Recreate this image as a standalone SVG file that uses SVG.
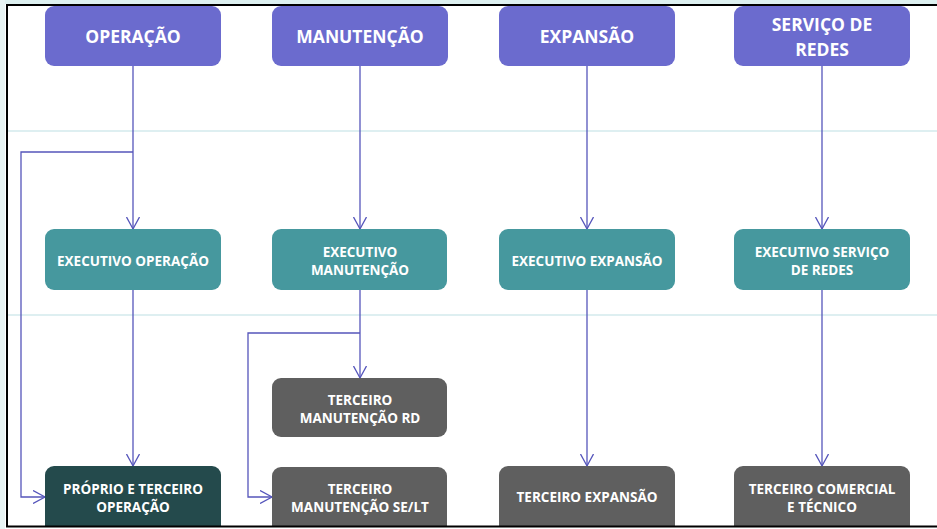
<svg xmlns="http://www.w3.org/2000/svg" width="937" height="529" viewBox="0 0 937 529">
<defs>
<style>
.top{fill:#6B6BCE}
.exe{fill:#46989E}
.ter{fill:#5F5F5F}
.pro{fill:#244A4C}
text{font-family:"Open Sans","DejaVu Sans",sans-serif;font-weight:700;fill:#FFFFFF;text-anchor:middle}
.t1{font-size:17.5px}
.t2{font-size:13.5px}
.c{fill:none;stroke:#5555BB;stroke-width:1.3}
.sep{stroke:#D3EAEC;stroke-width:1.5}
</style>
<marker id="ah" viewBox="0 0 14 14" refX="12" refY="7" markerWidth="14" markerHeight="14" markerUnits="userSpaceOnUse" orient="auto">
<path d="M0,0.5 L12,7 L0,13.5" fill="none" stroke="#5555BB" stroke-width="1.3"/>
</marker>
</defs>
<rect x="0" y="0" width="937" height="529" fill="#FFFFFF"/>
<rect x="0" y="0" width="937" height="4" fill="#DDF0F0"/>
<rect x="0" y="0" width="5" height="529" fill="#E8F4F4"/>
<line class="sep" x1="8" y1="131" x2="937" y2="131"/>
<line class="sep" x1="8" y1="315" x2="937" y2="315"/>

<g id="connectors">
<path class="c" d="M133,66 V229" marker-end="url(#ah)"/>
<path class="c" d="M133,152 H21 V497 H45" marker-end="url(#ah)"/>
<path class="c" d="M133,290 V466" marker-end="url(#ah)"/>
<path class="c" d="M360,66 V229" marker-end="url(#ah)"/>
<path class="c" d="M360,290 V378" marker-end="url(#ah)"/>
<path class="c" d="M360,333 H248 V497 H272" marker-end="url(#ah)"/>
<path class="c" d="M587,66 V229" marker-end="url(#ah)"/>
<path class="c" d="M587,290 V466" marker-end="url(#ah)"/>
<path class="c" d="M822,66 V229" marker-end="url(#ah)"/>
<path class="c" d="M822,290 V466" marker-end="url(#ah)"/>
</g>

<g id="operacao"><rect class="top" x="45" y="6" width="176" height="60" rx="9"/><text class="t1" x="133" y="43">OPERAÇÃO</text></g>
<g id="manutencao"><rect class="top" x="272" y="6" width="176" height="60" rx="9"/><text class="t1" x="360" y="43">MANUTENÇÃO</text></g>
<g id="expansao"><rect class="top" x="499" y="6" width="176" height="60" rx="9"/><text class="t1" x="587" y="43">EXPANSÃO</text></g>
<g id="servico"><rect class="top" x="734" y="6" width="176" height="60" rx="9"/><text class="t1" x="822" y="30.5">SERVIÇO DE</text><text class="t1" x="822" y="55.5">REDES</text></g>

<g id="exec-operacao"><rect class="exe" x="45" y="229" width="176" height="61" rx="9"/><text class="t2" x="133" y="265.5">EXECUTIVO OPERAÇÃO</text></g>
<g id="exec-manutencao"><rect class="exe" x="272" y="229" width="175" height="61" rx="9"/><text class="t2" x="360" y="257">EXECUTIVO</text><text class="t2" x="360" y="275">MANUTENÇÃO</text></g>
<g id="exec-expansao"><rect class="exe" x="499" y="229" width="176" height="61" rx="9"/><text class="t2" x="587" y="265.5">EXECUTIVO EXPANSÃO</text></g>
<g id="exec-servico"><rect class="exe" x="734" y="229" width="176" height="61" rx="9"/><text class="t2" x="822" y="257">EXECUTIVO SERVIÇO</text><text class="t2" x="822" y="275">DE REDES</text></g>

<g id="terceiro-rd"><rect class="ter" x="272" y="378" width="175" height="59" rx="9"/><text class="t2" x="360" y="405">TERCEIRO</text><text class="t2" x="360" y="423">MANUTENÇÃO RD</text></g>
<g id="proprio-operacao"><rect class="pro" x="45" y="466" width="176" height="75" rx="9"/><text class="t2" x="133" y="493.5">PRÓPRIO E TERCEIRO</text><text class="t2" x="133" y="511.5">OPERAÇÃO</text></g>
<g id="terceiro-selt"><rect class="ter" x="272" y="467" width="175" height="74" rx="9"/><text class="t2" x="360" y="493.5">TERCEIRO</text><text class="t2" x="360" y="511.5">MANUTENÇÃO SE/LT</text></g>
<g id="terceiro-expansao"><rect class="ter" x="499" y="466" width="176" height="75" rx="9"/><text class="t2" x="587" y="502">TERCEIRO EXPANSÃO</text></g>
<g id="terceiro-comercial"><rect class="ter" x="734" y="466" width="176" height="75" rx="9"/><text class="t2" x="822" y="493.5">TERCEIRO COMERCIAL</text><text class="t2" x="822" y="511.5">E TÉCNICO</text></g>

<rect x="5" y="526" width="932" height="3" fill="#FFFFFF"/>
<line x1="7" y1="5" x2="937" y2="5" stroke="#000000" stroke-width="2"/>
<line x1="7" y1="4" x2="7" y2="527" stroke="#000000" stroke-width="2"/>
<line x1="6" y1="526.5" x2="937" y2="526.5" stroke="#000000" stroke-width="2"/>
</svg>
